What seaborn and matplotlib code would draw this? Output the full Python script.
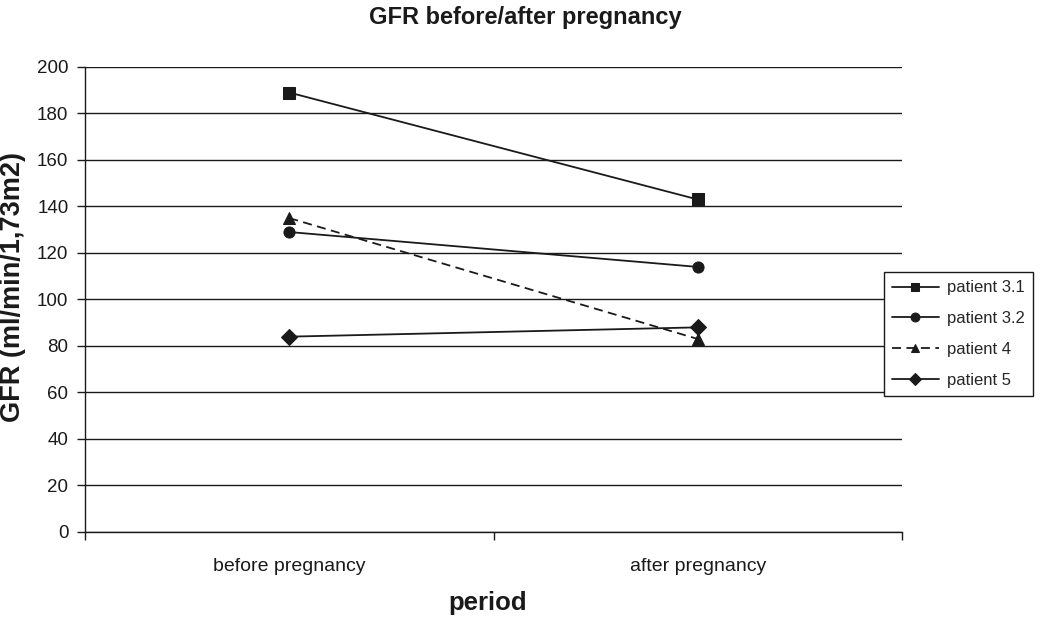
import numpy as np
import pandas as pd
import matplotlib
matplotlib.use('Agg')
import matplotlib.pyplot as plt
import seaborn as sns

sns.set_theme(style='white')
plt.rcParams['font.family'] = ['Liberation Sans', 'DejaVu Sans']

# ── data
PERIODS  = ['before pregnancy', 'after pregnancy']
PATIENTS = ['patient 3.1', 'patient 3.2', 'patient 4', 'patient 5']
GFR_31   = [189, 143]
GFR_32   = [129, 114]
GFR_4    = [135, 83]
GFR_5    = [84, 88]

rows = []
for name, vals in zip(PATIENTS, [GFR_31, GFR_32, GFR_4, GFR_5]):
    for i, v in enumerate(vals):
        rows.append({'period': i, 'GFR': v, 'patient': name})
df = pd.DataFrame(rows)

MARKERS = {'patient 3.1': 's', 'patient 3.2': 'o', 'patient 4': '^', 'patient 5': 'D'}
DASHES  = {'patient 3.1': '', 'patient 3.2': '', 'patient 4': (5, 3), 'patient 5': ''}
PALETTE = {p: '#1a1a1a' for p in PATIENTS}

fig = plt.figure(figsize=(10.5, 6.2), dpi=100)
ax = fig.add_axes([0.081, 0.142, 0.778, 0.75])

sns.lineplot(data=df, x='period', y='GFR', hue='patient', style='patient',
             palette=PALETTE, markers=MARKERS, dashes=DASHES,
             markersize=8, markeredgecolor='#1a1a1a', linewidth=1.3, ax=ax)

ax.set_xlim(-0.5, 1.5)
ax.set_ylim(0, 200)
ax.set_yticks(np.arange(0, 201, 20))
ax.yaxis.grid(True, color='#1a1a1a', lw=1)
ax.set_axisbelow(True)
ax.set_xticks([-0.5, 0.5, 1.5])
ax.set_xticklabels([])
ax.set_xticks([0, 1], minor=True)
ax.set_xticklabels(PERIODS, minor=True, fontsize=14)
ax.tick_params(axis='x', which='major', direction='out', length=6, width=1, color='#1a1a1a', bottom=True)
ax.tick_params(axis='x', which='minor', length=0, pad=19, colors='#1a1a1a')
ax.tick_params(axis='y', direction='out', length=6, width=1, color='#1a1a1a', left=True,
               labelsize=13.5, labelcolor='#1a1a1a', pad=6)
for s in ['top', 'right']:
    ax.spines[s].set_visible(False)
for s in ['left', 'bottom']:
    ax.spines[s].set_color('#1a1a1a')
    ax.spines[s].set_linewidth(1)

ax.set_xlabel('period', fontsize=18.5, fontweight='bold', color='#1a1a1a')
ax.xaxis.set_label_coords(0.493, -0.128)
ax.set_ylabel('GFR (ml/min/1,73m2)', fontsize=19.5, fontweight='bold', color='#1a1a1a')
ax.yaxis.set_label_coords(-0.072, 0.527)
fig.suptitle('GFR before/after pregnancy', fontsize=17, fontweight='bold', y=0.99, color='#1a1a1a')

ax.get_legend().remove()
handles, labels = ax.get_legend_handles_labels()
leg = fig.legend(handles, labels, loc='center left', bbox_to_anchor=(0.8335, 0.461),
                 fontsize=12, frameon=True, fancybox=False, edgecolor='#1a1a1a',
                 framealpha=1, handlelength=2.8, borderpad=0.5, labelspacing=0.95,
                 handletextpad=0.5, markerscale=0.8)
leg.get_frame().set_linewidth(1)

fig.savefig('out.png', dpi=100)
